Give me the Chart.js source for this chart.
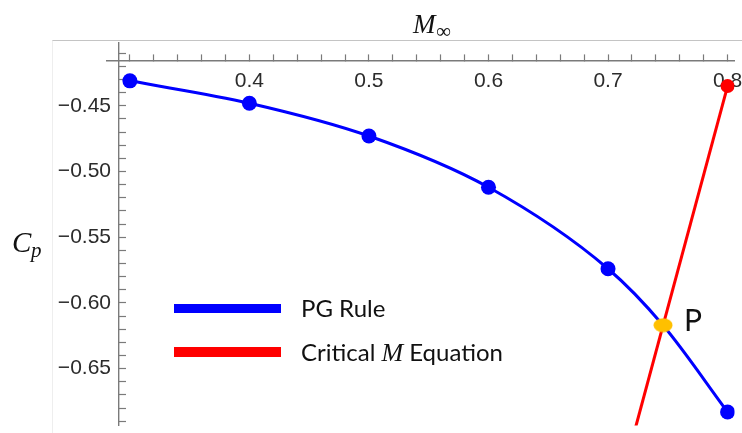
<!DOCTYPE html>
<html>
<head>
<meta charset="utf-8">
<script src="https://cdn.jsdelivr.net/npm/chart.js@4/dist/chart.umd.min.js"></script>
<style>
  body { margin: 0; background: #fff; }
  #wrap { position: relative; width: 742px; height: 433px; overflow: hidden; }
  #frame { position: absolute; left: 52px; top: 40px; right: 0; bottom: 0;
           border-top: 1px solid #c4c4c4; border-left: 1px solid #eeeeee; }
  canvas { position: absolute; left: 0; top: 0; }
  .key { position: absolute; left: 174px; width: 107px; }
  .lbl { position: absolute; left: 301px; font-family: Lato, sans-serif; font-size: 24px;
         color: #111; line-height: 30px; white-space: nowrap; }
  .lbl i { font-family: "Liberation Serif", serif; font-size: 26px; }
</style>
</head>
<body>
<div id="wrap">
  <div id="frame"></div>
  <canvas id="chart" width="742" height="433"></canvas>
  <div class="key" style="top:304px;height:9px;background:#0000ff"></div>
  <div class="lbl" style="top:293px">PG Rule</div>
  <div class="key" style="top:347px;height:10px;background:#ff0000"></div>
  <div class="lbl" style="top:337px">Critical <i>M</i> Equation</div>
</div>
<script>
// --- donnees ---
// la courbe PG passe par P (0.746) : point sans marqueur
const pgMach = [0.3, 0.4, 0.5, 0.6, 0.7, 0.746, 0.8];
const pgCp = [-0.431, -0.448, -0.473, -0.512, -0.574, -0.617, -0.683];
const pgDots = [7.5, 7.5, 7.5, 7.5, 7.5, 0, 7.5];

const critMach = [0.72, 0.8];
const critCp = [-0.705, -0.435];

const pointP = { x: 0.746, y: -0.617 };

const xTickLabels = ['0.4', '0.5', '0.6', '0.7', '0.8'];
const yTickLabels = ['\u22120.45', '\u22120.50', '\u22120.55', '\u22120.60', '\u22120.65'];

// bornes des axes
const xMin = 0.2909, xMax = 0.8058;
const yMin = -0.6933, yMax = -0.4022;
const xAxisAt = -0.4157;

// graduations (mineures tous les 0.02 / 0.01)
const xTicks = [];
for (let i = 15; i <= 40; i++) xTicks.push(i / 50);
const yTicks = [];
for (let i = -69; i <= -41; i++) yTicks.push(i / 100);

const fmtX = v => v.toFixed(1);
const fmtY = v => '\u2212' + Math.abs(v).toFixed(2);

// petit point ovale pour P
const dotP = document.createElement('canvas');
dotP.width = 20; dotP.height = 15;
(() => {
    const c = dotP.getContext('2d');
    c.fillStyle = '#ffc000';
    c.beginPath();
    c.ellipse(10, 7.5, 9.5, 7, 0, 0, Math.PI * 2);
    c.fill();
})();

const tickFont = { family: '"Liberation Sans", Arial, sans-serif', size: 21 };
const axisGrey = '#7a7a7a';

// titres et lettre P
const annotations = {
    id: 'annotations',
    afterLayout(chart) {
        // l'axe horizontal depasse un peu a gauche, comme dans l'original
        chart.scales.x.left = 107;
    },
    afterDraw(chart) {
        const ctx = chart.ctx;
        ctx.save();
        ctx.fillStyle = '#111';
        ctx.textBaseline = 'alphabetic';
        ctx.textAlign = 'left';

        ctx.font = 'italic 27px "Liberation Serif", serif';
        ctx.fillText('M', 413, 33);
        ctx.font = '21px "Liberation Serif", serif';
        ctx.fillText('\u221e', 436, 38);

        ctx.font = 'italic 29px "Liberation Serif", serif';
        ctx.fillText('C', 12, 252);
        ctx.font = 'italic 21px "Liberation Serif", serif';
        ctx.fillText('p', 31, 257);

        const px = chart.scales.x.getPixelForValue(pointP.x);
        const py = chart.scales.y.getPixelForValue(pointP.y);
        ctx.font = '30px Lato, sans-serif';
        ctx.fillText('P', px + 21, py + 6);
        ctx.restore();
    }
};

new Chart(document.getElementById('chart'), {
    type: 'line',
    data: {
        datasets: [
            {
                label: 'PG Rule',
                data: pgMach.map((m, i) => ({ x: m, y: pgCp[i] })),
                borderColor: '#0000ff',
                backgroundColor: '#0000ff',
                borderWidth: 3,
                cubicInterpolationMode: 'monotone',
                pointRadius: pgDots,
                pointBorderWidth: 0,
                order: 2
            },
            {
                label: 'Critical M Equation',
                data: critMach.map((m, i) => ({ x: m, y: critCp[i] })),
                borderColor: '#ff0000',
                backgroundColor: '#ff0000',
                borderWidth: 3,
                pointRadius: [0, 7],
                pointBorderWidth: 0,
                order: 1
            },
            {
                label: 'P',
                data: [pointP],
                pointStyle: dotP,
                showLine: false,
                order: 0
            }
        ]
    },
    options: {
        responsive: false,
        animation: false,
        layout: { padding: { top: 43, left: 0, right: 0, bottom: 0 } },
        plugins: {
            legend: { display: false },
            tooltip: { enabled: false }
        },
        scales: {
            x: {
                type: 'linear',
                position: { y: xAxisAt },
                min: xMin,
                max: xMax,
                afterFit: s => { s.height = 0; s.paddingLeft = 0; s.paddingRight = 0; },
                afterBuildTicks: s => { s.ticks = xTicks.map(v => ({ value: v })); },
                grid: { drawOnChartArea: false, tickLength: -7, tickColor: axisGrey, tickWidth: 1.2 },
                border: { color: axisGrey, width: 1.4 },
                ticks: {
                    padding: 15,
                    font: tickFont,
                    color: '#2b2b2b',
                    maxRotation: 0,
                    autoSkip: false,
                    callback: v => xTickLabels.includes(fmtX(v)) && Math.abs(v * 10 - Math.round(v * 10)) < 1e-6 ? fmtX(v) : ''
                }
            },
            y: {
                type: 'linear',
                position: 'left',
                min: yMin,
                max: yMax,
                afterFit: s => { s.width = 119; s.paddingTop = 0; s.paddingBottom = 0; },
                afterBuildTicks: s => { s.ticks = yTicks.map(v => ({ value: v })); },
                grid: { drawOnChartArea: false, drawTicks: false },
                border: { color: axisGrey, width: 1.4 },
                ticks: {
                    padding: 8,
                    font: tickFont,
                    color: '#2b2b2b',
                    autoSkip: false,
                    callback: v => yTickLabels.includes(fmtY(v)) ? fmtY(v) : ''
                }
            },
            // graduations tournees vers l'interieur
            y2: {
                type: 'linear',
                position: { x: xMin },
                min: yMin,
                max: yMax,
                afterFit: s => { s.width = 0; s.paddingTop = 0; s.paddingBottom = 0; },
                afterBuildTicks: s => { s.ticks = yTicks.map(v => ({ value: v })); },
                grid: { drawOnChartArea: false, tickLength: -7, tickColor: axisGrey, tickWidth: 1.2 },
                border: { display: false },
                ticks: { display: false }
            }
        }
    },
    plugins: [annotations]
});
</script>
</body>
</html>
